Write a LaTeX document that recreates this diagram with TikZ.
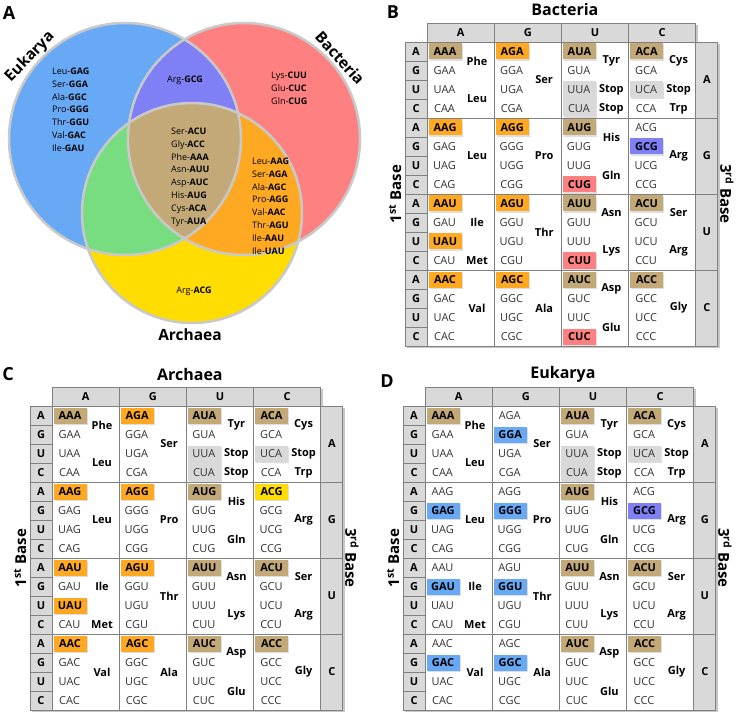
\documentclass[tikz,border=0pt]{standalone}
\usepackage{fontspec}
\setmainfont{Open Sans}
\usetikzlibrary{shadows}
\definecolor{venblue}{HTML}{68A9F6}
\definecolor{venred}{HTML}{FF8080}
\definecolor{venyellow}{HTML}{FFDD00}
\definecolor{venpurple}{HTML}{8080F6}
\definecolor{vengreen}{HTML}{78DC80}
\definecolor{venorange}{HTML}{FFA923}
\definecolor{ventan}{HTML}{C3A977}
\definecolor{ring}{HTML}{C9C9C9}
\definecolor{cellgray}{HTML}{D9D9D9}
\definecolor{gridline}{HTML}{808080}
\definecolor{ink}{HTML}{333333}
\newcommand{\cw}{67.2}
\newcommand{\rh}{19}
\tikzset{
  panel/.style={font=\fontsize{18}{18}\selectfont\bfseries},
  ttl/.style={font=\fontsize{16}{16}\selectfont\bfseries},
  dom/.style={font=\fontsize{15.5}{16}\selectfont\bfseries},
  vtxt/.style={font=\fontsize{9}{12.9}\selectfont,align=left,anchor=north west,inner sep=0pt},
  vone/.style={font=\fontsize{9}{12.9}\selectfont,inner sep=0pt},
  hdr/.style={fill=cellgray,draw=gridline,line width=0.8pt},
  lab/.style={font=\fontsize{11}{11}\selectfont\bfseries},
  cod/.style={font=\fontsize{11}{11}\selectfont,text=ink,inner sep=0pt},
  amino/.style={font=\fontsize{11}{11}\selectfont\bfseries},
  hl/.style={minimum width=33pt,minimum height=16pt,inner sep=0pt,font=\fontsize{11}{11}\selectfont\bfseries,
    drop shadow={shadow xshift=1.2pt,shadow yshift=-1.2pt,fill=black!25}},
  stopbox/.style={fill=cellgray,drop shadow={shadow xshift=1.2pt,shadow yshift=-1.2pt,fill=black!25}},
  axislab/.style={font=\fontsize{15}{15}\selectfont\bfseries},
  ringline/.style={draw=ring,line width=2.5pt},
}
% #1,#2 = top left of the header row, #3 = title, #4 = highlighted codons (col/row/codon/colour)
\newcommand{\codontab}[4]{%
\begin{scope}[shift={(#1,#2)}]
  % shadow of the frame
  \fill[black!22] (2,2) rectangle ({4*\cw+2},21);
  \fill[black!22] (-20,21) rectangle ({4*\cw+24},{16*\rh+21});
  % 2nd base
  \foreach \sb [count=\si from 0] in {A,G,U,C}{
    \filldraw[hdr] ({\si*\cw},0) rectangle ++(\cw,19);
    \node[lab] (#3-h\sb) at ({(\si+0.5)*\cw},9.5) {\sb};}
  % 1st base
  \foreach \fb [count=\fidx from 0] in {A,G,U,C,A,G,U,C,A,G,U,C,A,G,U,C}{
    \filldraw[hdr] (-22,{19+\fidx*\rh}) rectangle ++(22,\rh);
    \node[lab] at (-11,{19+(\fidx+0.5)*\rh}) {\fb};}
  % 3rd base
  \foreach \tb [count=\ti from 0] in {A,G,U,C}{
    \filldraw[hdr] ({4*\cw},{19+4*\ti*\rh}) rectangle ++(22,{4*\rh});
    \node[lab] (#3-t\tb) at ({4*\cw+11},{19+(4*\ti+2)*\rh}) {\tb};}
  \filldraw[fill=white,draw=gridline,line width=0.8pt] (0,19) rectangle ({4*\cw},{19+16*\rh});
  % stop codons
  \fill[stopbox] ({2*\cw+1.5},{19+2*\rh+1.5}) rectangle ++(33,{2*\rh-3});
  \fill[stopbox] ({3*\cw+1.5},{19+2*\rh+1.5}) rectangle ++(33,{\rh-3});
  % codons
  \foreach \sb [count=\si from 0] in {A,G,U,C}
    \foreach \tb [count=\ti from 0] in {A,G,U,C}
      \foreach \fb [count=\fidx from 0] in {A,G,U,C}
        \node[cod] at ({\si*\cw+17.5},{19+(4*\ti+\fidx+0.5)*\rh}) {\fb\sb\tb};
  \foreach \hc/\hr/\hcod/\hcol in {#4}
    \node[hl,fill=\hcol] at ({\hc*\cw+18},{19+(\hr+0.5)*\rh}) {\hcod};
  % amino acids
  \foreach \ac/\arow/\aname in {0/1/Phe,0/3/Leu,1/2/Ser,2/1/Tyr,2/2.5/Stop,2/3.5/Stop,3/1/Cys,3/2.5/Stop,3/3.5/Trp,
      0/6/Leu,1/6/Pro,2/5/His,2/7/Gln,3/6/Arg,0/9.5/Ile,0/11.5/Met,1/10/Thr,2/9/Asn,2/11/Lys,3/9/Ser,3/11/Arg,
      0/14/Val,1/14/Ala,2/13/Asp,2/15/Glu,3/14/Gly}
    \node[amino] at ({\ac*\cw+50},{19+\arow*\rh}) {\aname};
  \foreach \k in {1,2,3}{
    \draw[gridline,line width=0.8pt] ({\k*\cw},19) -- ({\k*\cw},{19+16*\rh});
    \draw[gridline,line width=0.8pt] (-22,{19+4*\k*\rh}) -- ({4*\cw+22},{19+4*\k*\rh});}
  \node[ttl] (#3) at ({2*\cw+3.5},-13) {#3};
  \node[axislab,rotate=90] (#3-first) at (-32,{19+8*\rh}) {1\textsuperscript{st} Base};
  \node[axislab,rotate=-90] (#3-third) at ({4*\cw+31},{19+8*\rh}) {3\textsuperscript{rd} Base};
\end{scope}}

\begin{document}
\begin{tikzpicture}[x=1pt,y=-1pt]
\useasboundingbox[fill=white] (0,0) rectangle (739,714);

% A: Venn diagram
\coordinate (euk) at (125,139);
\coordinate (bac) at (244,139);
\coordinate (arc) at (192,213);
\fill[venblue] (euk) circle [radius=116];
\fill[venred] (bac) circle [radius=116];
\fill[venyellow] (arc) circle [radius=110];
\begin{scope}
  \clip (bac) circle [radius=116];
  \fill[venorange] (arc) circle [radius=110];
\end{scope}
\begin{scope}
  \clip (euk) circle [radius=116];
  \fill[venpurple] (bac) circle [radius=116];
  \fill[vengreen] (arc) circle [radius=110];
  \clip (bac) circle [radius=116];
  \fill[ventan] (arc) circle [radius=110];
\end{scope}
\draw[ringline] (euk) circle [radius=116];
\draw[ringline] (bac) circle [radius=116];
\draw[ringline] (arc) circle [radius=110];

\node[panel] (A) at (9,13) {A};
\node[dom,rotate=46] (eukarya) at (30,57) {Eukarya};
\node[dom,rotate=-48] (bacteria) at (340,58) {Bacteria};
\node[dom] (archaea) at (190,335) {Archaea};

\node[vtxt] (eukonly) at (52,67.5) {Leu-\textbf{GAG}\\Ser-\textbf{GGA}\\Ala-\textbf{GGC}\\Pro-\textbf{GGG}\\Thr-\textbf{GGU}\\Val-\textbf{GAC}\\Ile-\textbf{GAU}};
\node[vone] (eukbac) at (185,80) {Arg-\textbf{GCG}};
\node[vtxt] (baconly) at (271,71.5) {Lys-\textbf{CUU}\\Glu-\textbf{CUC}\\Gln-\textbf{CUG}};
\node[vtxt] (common) at (171,127.5) {Ser-\textbf{ACU}\\Gly-\textbf{ACC}\\Phe-\textbf{AAA}\\Asn-\textbf{AUU}\\Asp-\textbf{AUC}\\His-\textbf{AUG}\\Cys-\textbf{ACA}\\Tyr-\textbf{AUA}};
\node[vtxt] (bacarc) at (252,157.5) {Leu-\textbf{AAG}\\Ser-\textbf{AGA}\\Ala-\textbf{AGC}\\Pro-\textbf{AGG}\\Val-\textbf{AAC}\\Thr-\textbf{AGU}\\Ile-\textbf{AAU}\\Ile-\textbf{UAU}};
\node[vone] (arconly) at (194,291) {Arg-\textbf{ACG}};

% B: Bacteria
\node[panel] (B) at (393,12) {B};
\codontab{427}{23}{Bacteria}{0/0/AAA/ventan,1/0/AGA/venorange,2/0/AUA/ventan,3/0/ACA/ventan,
  0/4/AAG/venorange,1/4/AGG/venorange,2/4/AUG/ventan,3/5/GCG/venpurple,2/7/CUG/venred,
  0/8/AAU/venorange,0/10/UAU/venorange,1/8/AGU/venorange,2/8/AUU/ventan,2/11/CUU/venred,3/8/ACU/ventan,
  0/12/AAC/venorange,1/12/AGC/venorange,2/12/AUC/ventan,2/15/CUC/venred,3/12/ACC/ventan}

% C: Archaea
\node[panel] (C) at (8,374) {C};
\codontab{52}{387}{Archaea}{0/0/AAA/ventan,1/0/AGA/venorange,2/0/AUA/ventan,3/0/ACA/ventan,
  0/4/AAG/venorange,1/4/AGG/venorange,2/4/AUG/ventan,3/4/ACG/venyellow,
  0/8/AAU/venorange,0/10/UAU/venorange,1/8/AGU/venorange,2/8/AUU/ventan,3/8/ACU/ventan,
  0/12/AAC/venorange,1/12/AGC/venorange,2/12/AUC/ventan,3/12/ACC/ventan}

% D: Eukarya
\node[panel] (D) at (387,381) {D};
\codontab{425}{387}{Eukarya}{0/0/AAA/ventan,1/1/GGA/venblue,2/0/AUA/ventan,3/0/ACA/ventan,
  0/5/GAG/venblue,1/5/GGG/venblue,2/4/AUG/ventan,3/5/GCG/venpurple,
  0/9/GAU/venblue,1/9/GGU/venblue,2/8/AUU/ventan,3/8/ACU/ventan,
  0/13/GAC/venblue,1/13/GGC/venblue,2/12/AUC/ventan,3/12/ACC/ventan}
\end{tikzpicture}
\end{document}
